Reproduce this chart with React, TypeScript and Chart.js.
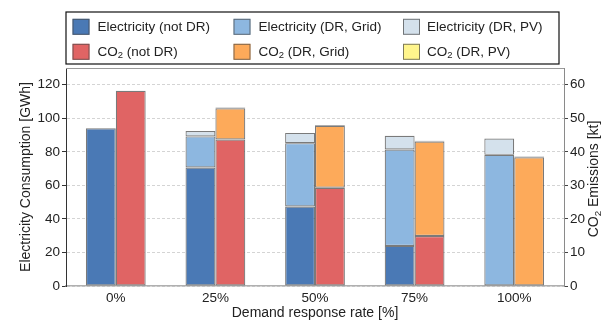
import React, { useEffect, useRef } from 'react';
import { Chart, registerables } from 'chart.js';

Chart.register(...registerables);

const categories = ['0%', '25%', '50%', '75%', '100%'];
const elecNotDR = [94, 70.7, 47.4, 23.9, null];
const elecGrid = [null, 18.5, 37.8, 57.5, 78.2];
const elecPV = [null, 3.2, 6.1, 8.2, 9.8];
const co2NotDR = [58.2, 43.7, 29.3, 14.9, null];
const co2Grid = [null, 9.3, 18.5, 28.2, 38.4];
const co2PV = [null, 0.2, 0.2, 0.2, 0.2];

const seriesLabels = [
  'Electricity (not DR)',
  'Electricity (DR, Grid)',
  'Electricity (DR, PV)',
  'CO₂ (not DR)',
  'CO₂ (DR, Grid)',
  'CO₂ (DR, PV)',
];
const seriesColors = ['#4a79b5', '#8db7e0', '#d4e1ec', '#e06464', '#fdaa5a', '#fff58c'];

const leftTitle = 'Electricity Consumption [GWh]';
const rightTitle = 'CO₂ Emissions [kt]';
const xTitle = 'Demand response rate [%]';

const FONT = '"Liberation Sans", Arial, sans-serif';
const TEXT = '#222222';

function drawRich(ctx: CanvasRenderingContext2D, text: string, x: number, y: number, size: number, align: 'left' | 'center') {
  const parts = text.split('₂');
  const segs: { t: string; sub: boolean }[] = [];
  parts.forEach((p, i) => {
    if (p) segs.push({ t: p, sub: false });
    if (i < parts.length - 1) segs.push({ t: '2', sub: true });
  });
  const fontFor = (sub: boolean) => `${sub ? size * 0.7 : size}px ${FONT}`;
  let total = 0;
  segs.forEach((s) => {
    ctx.font = fontFor(s.sub);
    total += ctx.measureText(s.t).width;
  });
  let cx = align === 'center' ? x - total / 2 : x;
  ctx.textBaseline = 'middle';
  ctx.textAlign = 'left';
  segs.forEach((s) => {
    ctx.font = fontFor(s.sub);
    ctx.fillText(s.t, cx, s.sub ? y + size * 0.28 : y);
    cx += ctx.measureText(s.t).width;
  });
}

const customPlugin = {
  id: 'customDecor',
  afterDraw(chart: any) {
    const ctx: CanvasRenderingContext2D = chart.ctx;
    const a = chart.chartArea;
    ctx.save();
    // top spine
    ctx.strokeStyle = '#9a9a9a';
    ctx.lineWidth = 1;
    ctx.beginPath();
    ctx.moveTo(a.left, a.top + 0.5);
    ctx.lineTo(a.right, a.top + 0.5);
    ctx.stroke();

    // legend box
    ctx.strokeStyle = '#111111';
    ctx.lineWidth = 1.2;
    ctx.fillStyle = '#ffffff';
    ctx.fillRect(66, 12, 493, 52);
    ctx.strokeRect(66, 12, 493, 52);

    const swatchX = [72.5, 233.5, 403];
    const textX = [97.5, 258.5, 427];
    const rowY = [26.8, 51.8];
    seriesLabels.forEach((label, i) => {
      const col = i % 3;
      const row = Math.floor(i / 3);
      const cy = rowY[row];
      ctx.fillStyle = seriesColors[i];
      ctx.fillRect(swatchX[col], cy - 8, 17, 16);
      ctx.strokeStyle = 'rgba(70,70,70,0.7)';
      ctx.lineWidth = 1;
      ctx.strokeRect(swatchX[col] + 0.5, cy - 7.5, 16, 15);
      ctx.fillStyle = TEXT;
      drawRich(ctx, label, textX[col], cy, 13.5, 'left');
    });

    // right axis title (reads bottom to top)
    ctx.save();
    ctx.translate(594.5, 179);
    ctx.rotate(-Math.PI / 2);
    ctx.fillStyle = TEXT;
    drawRich(ctx, rightTitle, 0, 0, 14, 'center');
    ctx.restore();

    ctx.restore();
  },
};

export default function App() {
  const ref = useRef<HTMLCanvasElement | null>(null);

  useEffect(() => {
    document.body.style.margin = '0';
    if (!ref.current) return;
    const border = 'rgba(70,70,70,0.72)';
    const mk = (i: number, data: (number | null)[], stack: string, axis: string) => ({
      label: seriesLabels[i],
      data,
      backgroundColor: seriesColors[i],
      borderColor: border,
      borderWidth: 1.2,
      borderSkipped: false as const,
      stack,
      yAxisID: axis,
      categoryPercentage: 0.6,
      barPercentage: 1.0,
    });
    const chart = new Chart(ref.current, {
      type: 'bar',
      data: {
        labels: categories,
        datasets: [
          mk(0, elecNotDR, 'elec', 'y'),
          mk(1, elecGrid, 'elec', 'y'),
          mk(2, elecPV, 'elec', 'y'),
          mk(3, co2NotDR, 'co2', 'y1'),
          mk(4, co2Grid, 'co2', 'y1'),
          mk(5, co2PV, 'co2', 'y1'),
        ],
      },
      options: {
        animation: false,
        responsive: true,
        maintainAspectRatio: false,
        layout: { padding: { top: 68, left: 0, right: 0, bottom: 0 } },
        plugins: {
          legend: { display: false },
          tooltip: { enabled: false },
          title: { display: false },
        },
        scales: {
          x: {
            stacked: true,
            grid: { display: true, drawOnChartArea: false, drawTicks: false },
            border: { display: true, color: '#b0b0b0', width: 1.5 },
            ticks: { color: TEXT, font: { family: FONT, size: 13.5 }, padding: 4 },
            title: {
              display: true,
              text: xTitle,
              color: TEXT,
              font: { family: FONT, size: 14 },
              padding: { top: 0, bottom: 1.5 },
            },
            afterFit: (s: any) => {
              s.height = 37;
            },
          },
          y: {
            type: 'linear',
            position: 'left',
            stacked: true,
            min: 0,
            max: 130,
            grid: {
              color: '#d4d4d4',
              lineWidth: 1,
              drawTicks: true,
              tickLength: 4,
              tickColor: '#333333',
            },
            border: { display: true, color: '#333333', width: 1, dash: [3, 2] },
            ticks: {
              stepSize: 20,
              includeBounds: false,
              color: TEXT,
              font: { family: FONT, size: 13.5 },
              padding: 2,
            },
            title: {
              display: true,
              text: leftTitle,
              color: TEXT,
              font: { family: FONT, size: 14 },
              padding: { top: 17.5, bottom: 0 },
            },
            afterFit: (s: any) => {
              s.width = 66;
            },
          },
          y1: {
            type: 'linear',
            position: 'right',
            stacked: true,
            min: 0,
            max: 65,
            grid: {
              drawOnChartArea: false,
              drawTicks: true,
              tickLength: 4,
              tickColor: '#444444',
              color: '#444444',
            },
            border: { display: true, color: '#8a8a8a', width: 1 },
            ticks: {
              stepSize: 10,
              includeBounds: false,
              color: TEXT,
              font: { family: FONT, size: 13.5 },
              padding: 2,
            },
            afterFit: (s: any) => {
              s.width = 46;
            },
          },
        },
      },
      plugins: [customPlugin],
    });
    return () => chart.destroy();
  }, []);

  return (
    <div style={{ position: 'relative', width: 610, height: 323 }}>
      <canvas ref={ref} />
    </div>
  );
}
